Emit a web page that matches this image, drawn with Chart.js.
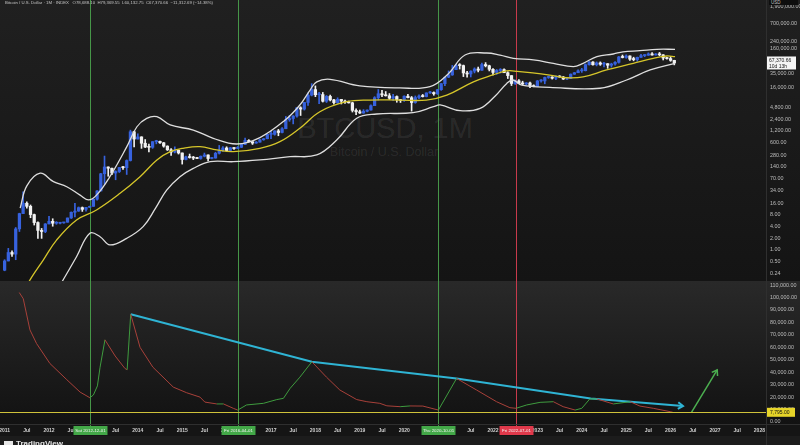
<!DOCTYPE html>
<html>
<head>
<meta charset="utf-8">
<script src="https://cdn.jsdelivr.net/npm/chart.js@4.4.1/dist/chart.umd.min.js"></script>
<style>
html, body { margin: 0; padding: 0; width: 800px; height: 445px; overflow: hidden; background: #161616; font-family: "Liberation Sans", Arial, sans-serif; }
#top { position: absolute; left: 0; top: 0; width: 800px; height: 281px; background: linear-gradient(#202020, #141414); }
#bot { position: absolute; left: 0; top: 281px; width: 800px; height: 164px; overflow: hidden;
       background: linear-gradient(#292929 0px, #121212 143px, #151515 143px, #151515 155px, #1c1c1c 155px); }
canvas { position: absolute; left: 0; top: 0; }
.wm1 { position: absolute; left: 0; width: 770px; top: 114px; text-align: center; font-size: 29px; line-height: 29px; color: rgba(255,255,255,0.085); }
.wm2 { position: absolute; left: 0; width: 768px; top: 146px; text-align: center; font-size: 12.5px; line-height: 12.5px; color: rgba(255,255,255,0.085); }
.legend { position: absolute; left: 5px; top: 0px; font-size: 4.3px; line-height: 5px; color: #c4c4c4; white-space: pre; z-index: 2; }
.usd { position: absolute; left: 769px; top: 0px; width: 27px; height: 5px; background: #0e0e0e; font-size: 4.5px; line-height: 5px; color: #c4c4c4; padding-left: 2px; z-index: 2; }
.logo { position: absolute; left: 4px; top: 158px; font-size: 8px; font-weight: bold; color: #e6e6e6; white-space: nowrap; }
.logo span { display: inline-block; width: 9px; height: 6px; background: #e6e6e6; margin-right: 3px; vertical-align: -1px; }
</style>
</head>
<body>
<div id="top">
  <div class="wm1">BTCUSD, 1M</div>
  <div class="wm2">Bitcoin / U.S. Dollar</div>
  <div class="legend">Bitcoin / U.S. Dollar · 1M · INDEX   O78,688.10  H79,369.55  L60,132.75  C67,370.66  −11,312.69 (−14.38%)</div>
  <div class="usd">USD</div>
  <canvas id="priceCanvas" width="800" height="281"></canvas>
</div>
<div id="bot">
  <canvas id="oscCanvas" width="800" height="164"></canvas>
  <div class="logo"><span></span>TradingView</div>
</div>
<script>
// monthly candles, first one is Jan 2011
const startYear = 2011;
const opens = [
  0.30, 0.52, 0.86, 0.78, 3.50, 8.70, 16.1, 13.4, 8.20, 5.10, 3.20, 3.00,
  4.70, 5.50, 4.90, 4.90, 5.00, 5.20, 6.70, 9.40, 10.1, 12.4, 11.2, 12.6,
  13.4, 20.4, 33.4, 93, 139, 129, 97, 106, 135, 133, 204, 1129,
  732, 830, 570, 455, 448, 627, 640, 585, 480, 386, 338, 378,
  320, 217, 254, 244, 236, 230, 263, 284, 230, 236, 314, 377,
  430, 369, 437, 416, 448, 531, 673, 624, 575, 609, 701, 745,
  966, 967, 1190, 1080, 1350, 2300, 2480, 2870, 4700, 4340, 6450, 9950,
  13850, 10200, 10300, 6920, 9240, 7500, 6390, 7730, 7000, 6600, 6300, 4020,
  3700, 3440, 3820, 4100, 5320, 8550, 10820, 10080, 9600, 8300, 9150, 7550,
  7190, 9350, 8550, 6420, 8630, 9450, 9140, 11350, 11650, 10780, 13800, 19700,
  28990, 33140, 45240, 58800, 57700, 37300, 35040, 41460, 47100, 43800, 61300, 57000,
  46300, 38500, 43200, 45500, 37700, 31800, 19900, 23300, 20000, 19400, 20500, 17150,
  16550, 23140, 23150, 28480, 29250, 27220, 30480, 29230, 25940, 26970, 34650, 37720,
  42280, 42580, 61130, 71300, 60640, 67500, 62700, 64600, 58970, 63300, 70200, 96400,
  93400, 102400, 84350, 82500, 94200, 104600, 107100, 115700, 108300, 114100, 109500, 90400,
  87500, 78688.10
];
const highs = [
  0.56, 1.10, 0.95, 3.80, 8.90, 31.9, 17.5, 14.5, 8.45, 5.30, 3.60, 4.80,
  7.38, 6.40, 5.40, 5.20, 5.20, 6.70, 9.60, 16.0, 12.9, 12.9, 12.6, 13.6,
  20.9, 34.0, 95, 266, 140, 130, 111, 135, 145, 212, 1242, 1165,
  1000, 840, 710, 540, 630, 680, 650, 600, 490, 415, 460, 385,
  320, 265, 300, 261, 248, 268, 318, 285, 245, 334, 500, 466,
  462, 448, 440, 470, 550, 780, 705, 626, 630, 720, 755, 980,
  1150, 1200, 1300, 1450, 2800, 3000, 2950, 4750, 5000, 6470, 11400, 19700,
  17250, 11800, 11700, 9760, 9990, 7780, 8500, 7760, 7400, 7000, 6550, 4400,
  4100, 4200, 4150, 5600, 9100, 13900, 13200, 12330, 10950, 10370, 9520, 7750,
  9580, 10500, 9190, 9470, 10070, 10380, 11450, 12470, 12090, 14100, 19950, 29300,
  41950, 58350, 61790, 64900, 59600, 41300, 42400, 50500, 52900, 67000, 69000, 59100,
  48000, 45800, 48200, 47400, 40000, 31900, 24700, 25200, 22800, 21000, 21500, 18400,
  23900, 25250, 29200, 31000, 29850, 31400, 31800, 30250, 27500, 35200, 38400, 44700,
  48950, 64000, 73800, 72700, 71950, 71900, 70000, 65100, 66500, 73600, 99600, 108200,
  109350, 102500, 95000, 95800, 111900, 110600, 123200, 124400, 117900, 126200, 111000, 94600,
  97900, 79369.55
];
const lows = [
  0.29, 0.52, 0.68, 0.56, 3.00, 8.60, 12.0, 6.80, 4.40, 2.00, 1.99, 2.80,
  4.70, 4.10, 4.60, 4.70, 4.90, 5.20, 6.50, 7.10, 9.90, 9.90, 10.0, 12.6,
  13.3, 19.2, 33.4, 50, 80, 88, 65, 100, 120, 89, 198, 455,
  733, 420, 440, 340, 420, 550, 565, 450, 370, 275, 320, 300,
  165, 212, 235, 215, 228, 220, 253, 199, 225, 235, 300, 350,
  352, 365, 395, 412, 440, 525, 610, 530, 570, 605, 680, 740,
  750, 920, 890, 1060, 1350, 2100, 1800, 2680, 2970, 4100, 5380, 9500,
  9100, 6000, 6600, 6430, 7050, 5780, 6070, 5880, 6100, 6200, 3650, 3120,
  3350, 3380, 3680, 4050, 5330, 7450, 9070, 9400, 7700, 7300, 6520, 6430,
  6860, 8450, 3850, 6150, 8110, 8900, 8950, 10950, 9880, 10380, 13220, 17600,
  28130, 32300, 44950, 47000, 30000, 28800, 29300, 37300, 39600, 43300, 53300, 42000,
  32900, 34300, 37200, 37600, 26700, 17600, 18800, 19600, 18200, 18200, 15500, 16300,
  16500, 21400, 19550, 26950, 25850, 24800, 28900, 25200, 24900, 26560, 34100, 37600,
  38550, 41900, 59300, 59200, 56600, 58500, 53500, 49000, 52600, 58900, 66800, 90900,
  89200, 78200, 76600, 74600, 93400, 98200, 105300, 107300, 107300, 103500, 80600, 84500,
  74500, 60132.75
];
const closes = [
  0.52, 0.86, 0.78, 3.50, 8.70, 16.1, 13.4, 8.20, 5.10, 3.20, 3.00, 4.70,
  5.50, 4.90, 4.90, 5.00, 5.20, 6.70, 9.40, 10.1, 12.4, 11.2, 12.6, 13.4,
  20.4, 33.4, 93, 139, 129, 97, 106, 135, 133, 204, 1129, 732,
  830, 570, 455, 448, 627, 640, 585, 480, 386, 338, 378, 320,
  217, 254, 244, 236, 230, 263, 284, 230, 236, 314, 377, 430,
  369, 437, 416, 448, 531, 673, 624, 575, 609, 701, 745, 966,
  967, 1190, 1080, 1350, 2300, 2480, 2870, 4700, 4340, 6450, 9950, 13850,
  10200, 10300, 6920, 9240, 7500, 6390, 7730, 7000, 6600, 6300, 4020, 3700,
  3440, 3820, 4100, 5320, 8550, 10820, 10080, 9600, 8300, 9150, 7550, 7190,
  9350, 8550, 6420, 8630, 9450, 9140, 11350, 11650, 10780, 13800, 19700, 28990,
  33140, 45240, 58800, 57700, 37300, 35040, 41460, 47100, 43800, 61300, 57000, 46300,
  38500, 43200, 45500, 37700, 31800, 19900, 23300, 20000, 19400, 20500, 17150, 16550,
  23140, 23150, 28480, 29250, 27220, 30480, 29230, 25940, 26970, 34650, 37720, 42280,
  42580, 61130, 71300, 60640, 67500, 62700, 64600, 58970, 63300, 70200, 96400, 93400,
  102400, 84350, 82500, 94200, 104600, 107100, 115700, 108300, 114100, 109500, 90400, 87500,
  78688.10, 67370.66
];
const barCountdown = '10d 13h';

// Bollinger bands, [decimal year, price]
const upperBand = [
  [2011.35, 12], [2011.5, 45], [2011.8, 96], [2012.1, 58], [2012.4, 43], [2012.7, 26], [2012.89, 19.6],
  [2013.07, 26], [2013.37, 78], [2013.75, 460], [2013.98, 1520], [2014.2, 2500], [2014.43, 2760],
  [2014.73, 1690], [2015.25, 1250], [2015.7, 765], [2016.23, 545], [2016.75, 800], [2017.32, 2270],
  [2017.65, 5550], [2017.88, 13500], [2018.03, 22000], [2018.33, 25500], [2019.0, 17200], [2019.9, 15300],
  [2020.58, 16500], [2020.99, 35000], [2021.37, 108000], [2021.86, 122000], [2022.16, 108000],
  [2022.46, 89000], [2022.91, 80600], [2023.36, 66000], [2023.81, 54000], [2024.03, 66000],
  [2024.34, 98000], [2024.71, 115000], [2024.93, 131000], [2025.31, 140000], [2025.69, 152000], [2026.1, 152000]
];
const basisBand = [
  [2011.5, 0.12], [2011.61, 0.2], [2011.87, 0.55], [2012.17, 1.8], [2012.62, 5.95], [2013.07, 10.8],
  [2013.6, 29], [2014.05, 78], [2014.43, 211], [2014.73, 345], [2015.02, 422], [2015.4, 464],
  [2015.78, 382], [2016.15, 345], [2016.75, 422], [2017.2, 625], [2017.65, 1390], [2018.1, 3720],
  [2018.7, 6750], [2019.23, 7440], [2019.9, 7440], [2020.5, 7440], [2020.96, 10000], [2021.56, 22000],
  [2022.0, 33000], [2022.3, 42000], [2022.55, 41000], [2023.28, 32900], [2023.66, 28000], [2024.03, 29500],
  [2024.56, 44500], [2025.16, 66000], [2025.61, 89000], [2025.91, 102000], [2026.1, 98000]
];
const lowerBand = [
  [2012.2, 0.1], [2012.32, 0.17], [2012.62, 0.67], [2012.92, 2.7], [2013.15, 2.2], [2013.37, 1.35],
  [2013.75, 2.0], [2014.12, 4], [2014.4, 12], [2014.65, 35], [2014.95, 78], [2015.25, 128],
  [2015.63, 190], [2016.15, 190], [2016.75, 211], [2017.43, 256], [2018.03, 284], [2018.48, 690],
  [2018.93, 2520], [2019.38, 3240], [2020.2, 3510], [2020.66, 5000], [2020.81, 5550], [2021.26, 3950],
  [2021.71, 4550], [2022.05, 9500], [2022.31, 20000], [2022.45, 24500], [2022.65, 18000],
  [2023.28, 15800], [2024.41, 15000], [2025.01, 24500], [2025.54, 44500], [2026.1, 66000]
];

// lower pane oscillator, [decimal year, value]
const oscPoints = [
  [2011.33, 104000], [2011.42, 99000], [2011.57, 74000], [2011.72, 63000], [2012.02, 47000],
  [2012.40, 34000], [2012.70, 24000], [2012.92, 19500], [2013.0, 21700], [2013.09, 29000],
  [2013.15, 44000], [2013.26, 66000], [2013.49, 53000], [2013.71, 43000], [2013.76, 42000],
  [2013.84, 86500], [2014.05, 60000], [2014.34, 44000], [2014.80, 28000], [2015.10, 23500],
  [2015.40, 20000], [2015.51, 16000], [2015.78, 14500], [2015.93, 14500], [2016.15, 11000],
  [2016.25, 9600], [2016.45, 13700], [2016.83, 15000], [2017.13, 18000], [2017.28, 19000],
  [2017.43, 27000], [2017.65, 36000], [2017.92, 48400], [2018.25, 36000], [2018.55, 25700],
  [2018.93, 18000], [2019.16, 16300], [2019.45, 15000], [2019.61, 13000], [2019.91, 12300],
  [2020.13, 12900], [2020.42, 12800], [2020.77, 9600], [2021.18, 35000], [2021.63, 25700],
  [2022.08, 16300], [2022.38, 11500], [2022.52, 11000], [2022.76, 13700], [2023.06, 15800],
  [2023.36, 16300], [2023.58, 12300], [2023.85, 9600], [2024.0, 11000], [2024.18, 18500],
  [2024.34, 18500], [2024.71, 14500], [2025.09, 16300], [2025.31, 12800], [2025.61, 11000],
  [2025.99, 8300], [2026.05, 7800]
];
const trendPoints = [[2013.84, 86500], [2017.92, 48400], [2021.18, 35000], [2024.2, 18800], [2026.28, 12850]];
const arrowPoints = [[2026.47, 7800], [2027.05, 41800]];
const supportLevel = 7795;

const markerDates = [2012 + 11 / 12, 2016.25, 2020.75, 2022.5];
const markerLabels = ['Sat 2012-12-01', 'Fri 2016-04-01', 'Thu 2020-10-01', 'Fri 2022-07-01'];
const markerLineColors = ['rgb(70,150,72)', 'rgb(70,150,72)', 'rgb(70,150,72)', 'rgb(200,58,76)'];
const markerBoxColors = ['rgb(67,168,72)', 'rgb(67,168,72)', 'rgb(67,168,72)', 'rgb(224,57,75)'];

const priceTicks = [0.24, 0.5, 1, 2, 4, 8, 16, 34, 70, 140, 280, 600, 1200, 2400, 4800, 16000, 35000, 160000, 240000, 700000, 1900000];
const oscTicks = [0, 10000, 20000, 30000, 40000, 50000, 60000, 70000, 80000, 90000, 100000, 110000];
const yearTicks = [2011, 2012, 2013, 2014, 2015, 2016, 2017, 2018, 2019, 2020, 2021, 2022, 2023, 2024, 2025, 2026, 2027, 2028];

const xMin = 2010.896, xMax = 2028.149;
const upColor = '#3762de', downColor = '#f2f2f2';
const tickFont = { family: '"Liberation Sans", Arial, sans-serif', size: 5.4 };

const months = opens.map((_, i) => startYear + i / 12);
const fmt = v => Number(v).toLocaleString('en-US', { minimumFractionDigits: 2, maximumFractionDigits: 2 });
const pts = arr => arr.map(p => ({ x: p[0], y: p[1] }));
const candleColor = c => closes[c.dataIndex] >= opens[c.dataIndex] ? upColor : downColor;
// snap a marker to an even pixel column so the thin line keeps its colour
const markerX = (scale, t) => 2 * Math.round(scale.getPixelForValue(t) / 2) + 0.5;

function xScale(show) {
  return {
    type: 'linear', min: xMin, max: xMax, offset: false, display: show,
    grid: { display: false, drawTicks: false }, border: { display: false },
    afterBuildTicks: s => {
      const t = [];
      yearTicks.forEach(y => { t.push({ value: y }); if (y < 2028) t.push({ value: y + 0.5 }); });
      s.ticks = t;
    },
    afterFit: s => { if (show) s.height = 12; s.paddingLeft = 0; s.paddingRight = 0; },
    ticks: {
      autoSkip: false, maxRotation: 0, padding: 3.5, color: '#cfcfcf',
      font: { family: tickFont.family, size: 5, weight: 'bold' },
      callback: v => Number.isInteger(v) ? String(v) : 'Jul'
    }
  };
}
function yScale(type, min, max, tickList) {
  return {
    type: type, position: 'right', min: min, max: max,
    grid: { display: false, drawTicks: false }, border: { display: false },
    afterBuildTicks: s => { s.ticks = tickList.map(v => ({ value: v })); },
    afterFit: s => { s.width = 34; s.paddingTop = 0; s.paddingBottom = 0; },
    ticks: { autoSkip: false, padding: 4, color: '#bdbdbd', font: tickFont, callback: v => fmt(v) }
  };
}

// vertical date markers, drawn in both panes
function drawMarkers(chart, extend) {
  const { ctx, chartArea: a, scales: { x } } = chart;
  for (let i = 0; i < markerDates.length; i++) {
    const px = markerX(x, markerDates[i]);
    ctx.save();
    ctx.lineWidth = 1;
    ctx.strokeStyle = markerLineColors[i];
    ctx.beginPath();
    ctx.moveTo(px, a.top);
    ctx.lineTo(px, a.bottom + extend);
    ctx.stroke();
    ctx.restore();
  }
  ctx.save();
  ctx.strokeStyle = '#2f2f2f';
  ctx.lineWidth = 1;
  ctx.beginPath();
  ctx.moveTo(a.right + 0.5, 0); ctx.lineTo(a.right + 0.5, chart.height);
  ctx.moveTo(0, a.bottom + 0.5); ctx.lineTo(chart.width, a.bottom + 0.5);
  ctx.stroke();
  ctx.restore();
}

// price pane: markers + last price tag on the price axis
const pricePanePlugin = {
  id: 'pricePane',
  beforeDatasetsDraw(chart) { drawMarkers(chart, 0); },
  afterDraw(chart) {
    const { ctx, chartArea: a, scales: { y } } = chart;
    const last = closes[closes.length - 1];
    const py = y.getPixelForValue(last);
    ctx.save();
    ctx.fillStyle = '#f4f4f4';
    ctx.fillRect(a.right + 1, py - 6.5, 29, 13);
    ctx.fillStyle = '#151515';
    ctx.font = '5px "Liberation Sans", Arial, sans-serif';
    ctx.textBaseline = 'middle';
    ctx.fillText(fmt(last), a.right + 3, py - 2.8);
    ctx.fillText(barCountdown, a.right + 3, py + 3.2);
    ctx.restore();
  }
};

// lower pane: markers, horizontal level, arrow heads and date tags
const lowerPanePlugin = {
  id: 'lowerPane',
  beforeDatasetsDraw(chart) { drawMarkers(chart, 2); },
  afterDatasetsDraw(chart) {
    const { ctx, chartArea: a, scales: { y } } = chart;
    ctx.save();
    const ly = Math.round(y.getPixelForValue(supportLevel)) + 0.5;
    ctx.strokeStyle = '#cfc23a';
    ctx.lineWidth = 1;
    ctx.beginPath(); ctx.moveTo(a.left, ly); ctx.lineTo(a.right, ly); ctx.stroke();
    chart.data.datasets.forEach((ds, i) => {
      if (!ds.arrowHead) return;
      const el = chart.getDatasetMeta(i).data;
      const p1 = el[el.length - 2], p2 = el[el.length - 1];
      const ang = Math.atan2(p2.y - p1.y, p2.x - p1.x);
      ctx.strokeStyle = ds.borderColor;
      ctx.lineWidth = ds.borderWidth;
      ctx.beginPath();
      ctx.moveTo(p2.x - 6 * Math.cos(ang - 0.6), p2.y - 6 * Math.sin(ang - 0.6));
      ctx.lineTo(p2.x, p2.y);
      ctx.lineTo(p2.x - 6 * Math.cos(ang + 0.6), p2.y - 6 * Math.sin(ang + 0.6));
      ctx.stroke();
    });
    ctx.restore();
  },
  afterDraw(chart) {
    const { ctx, chartArea: a, scales: { x, y } } = chart;
    ctx.save();
    ctx.font = '4.4px "Liberation Sans", Arial, sans-serif';
    ctx.textAlign = 'center';
    ctx.textBaseline = 'middle';
    markerDates.forEach((t, i) => {
      const px = markerX(x, t);
      ctx.fillStyle = markerBoxColors[i];
      ctx.fillRect(px - 17, a.bottom + 2, 34, 9);
      ctx.fillStyle = '#f4f4f4';
      ctx.fillText(markerLabels[i], px, a.bottom + 6.7);
    });
    const ly = y.getPixelForValue(supportLevel);
    ctx.fillStyle = '#e6d429';
    ctx.fillRect(a.right + 1, ly - 4.5, 28, 9);
    ctx.fillStyle = '#111';
    ctx.font = '5px "Liberation Sans", Arial, sans-serif';
    ctx.textAlign = 'left';
    ctx.fillText(fmt(supportLevel), a.right + 4, ly + 0.3);
    ctx.restore();
  }
};

Chart.defaults.font.family = tickFont.family;

new Chart(document.getElementById('priceCanvas'), {
  type: 'line',
  data: {
    datasets: [
      { type: 'bar', label: 'wick', order: 3, grouped: false, barThickness: 1, minBarLength: 1,
        data: months.map((t, i) => ({ x: t, y: [lows[i], highs[i]] })), backgroundColor: candleColor },
      { type: 'bar', label: 'body', order: 2, grouped: false, barThickness: 2.6, minBarLength: 1,
        data: months.map((t, i) => ({ x: t, y: [opens[i], closes[i]] })), backgroundColor: candleColor },
      { label: 'upper', order: 1, data: pts(upperBand), borderColor: '#dedede', borderWidth: 1.3, pointRadius: 0, tension: 0.4 },
      { label: 'basis', order: 1, data: pts(basisBand), borderColor: '#d6c62a', borderWidth: 1.3, pointRadius: 0, tension: 0.4 },
      { label: 'lower', order: 1, data: pts(lowerBand), borderColor: '#dedede', borderWidth: 1.3, pointRadius: 0, tension: 0.4 }
    ]
  },
  options: {
    responsive: false, animation: false, devicePixelRatio: 1, events: [],
    layout: { padding: 0 },
    plugins: { legend: { display: false }, tooltip: { enabled: false } },
    scales: { x: xScale(false), y: yScale('logarithmic', 0.158, 2.85e6, priceTicks) }
  },
  plugins: [pricePanePlugin]
});

new Chart(document.getElementById('oscCanvas'), {
  type: 'line',
  data: {
    datasets: [
      { label: 'osc', data: pts(oscPoints), borderWidth: 1, pointRadius: 0, tension: 0, borderColor: '#a8413a',
        segment: { borderColor: c => c.p1.parsed.y >= c.p0.parsed.y ? '#3f9c3f' : '#a8413a' } },
      { label: 'trend', data: pts(trendPoints), borderColor: '#2fb4d4', borderWidth: 2, pointRadius: 0, tension: 0, arrowHead: true },
      { label: 'arrow', data: pts(arrowPoints), borderColor: '#4caf50', borderWidth: 1.5, pointRadius: 0, tension: 0, arrowHead: true }
    ]
  },
  options: {
    responsive: false, animation: false, devicePixelRatio: 1, events: [],
    layout: { padding: { bottom: 9 } },
    plugins: { legend: { display: false }, tooltip: { enabled: false } },
    scales: { x: xScale(true), y: yScale('linear', -1606, 113250, oscTicks) }
  },
  plugins: [lowerPanePlugin]
});
</script>
</body>
</html>
